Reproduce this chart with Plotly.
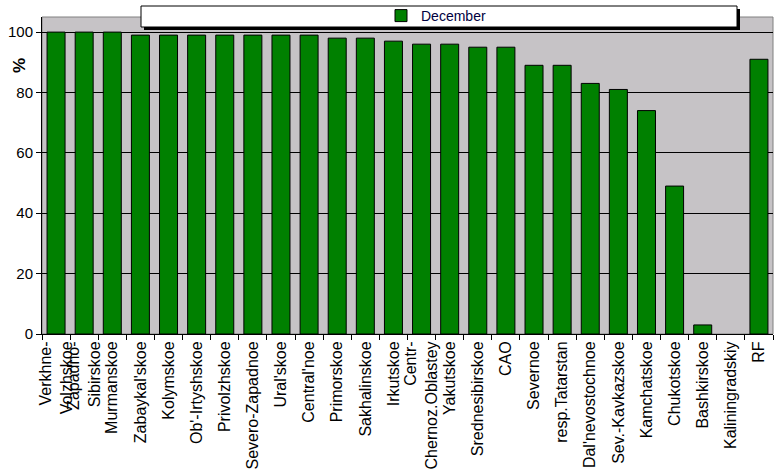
import plotly.graph_objects as go

categories = ["Verkhne-<br>Volzhskoe", "Zapadno-<br>Sibirskoe", "Murmanskoe", "Zabaykal'skoe", "Kolymskoe",
              "Ob'-Irtyshskoe", "Privolzhskoe", "Severo-Zapadnoe", "Ural'skoe", "Central'noe",
              "Primorskoe", "Sakhalinskoe", "Irkutskoe", "Centr-<br>Chernoz.Oblastey", "Yakutskoe",
              "Srednesibirskoe", "CAO", "Severnoe", "resp.Tatarstan", "Dal'nevostochnoe",
              "Sev.-Kavkazskoe", "Kamchatskoe", "Chukotskoe", "Bashkirskoe", "Kaliningradskiy", "RF"]
december = [100, 100, 100, 99, 99, 99, 99, 99, 99, 99, 98, 98, 97, 96, 96, 95, 95, 89, 89, 83,
            81, 74, 49, 3, 0, 91]
y_ticks = [0, 20, 40, 60, 80, 100]

W, H = 775, 475
L, R, T, B = 42, 2, 17, 141
pw = W - L - R
ph = H - T - B

def px_x(p):
    return (p - L) / pw

def px_y(p):
    return (H - B - p) / ph

fig = go.Figure()
fig.add_trace(go.Bar(
    x=categories, y=december, name="December",
    marker=dict(color="#008000",
                line=dict(color="black", width=[1 if v > 0 else 0 for v in december])),
))

fig.update_layout(
    width=W, height=H,
    margin=dict(l=L, r=R, t=T, b=B, autoexpand=False),
    paper_bgcolor="white",
    plot_bgcolor="#C6C3C6",
    bargap=0.36,
    font=dict(family="Liberation Sans, Arial, sans-serif", size=16, color="black"),
    showlegend=True,
    legend=dict(x=px_x(381), y=px_y(16), xanchor="left", yanchor="middle",
                bgcolor="rgba(0,0,0,0)", borderwidth=0,
                font=dict(size=14, color="#000040"), itemwidth=30),
    xaxis=dict(tickangle=-90, tickson="boundaries", ticks="outside", ticklen=5,
               tickcolor="black", showline=True, linecolor="black", linewidth=1,
               showgrid=False, tickfont=dict(size=16), automargin=False),
    yaxis=dict(range=[0, 105], tickvals=y_ticks, ticks="outside", ticklen=5,
               tickcolor="black", showline=True, linecolor="black", linewidth=1,
               showgrid=True, gridcolor="black", gridwidth=1, zeroline=False,
               tickfont=dict(size=15), automargin=False),
    shapes=[
        dict(type="rect", xref="paper", yref="paper", x0=0, x1=1, y0=0, y1=1,
             line=dict(color="#808080", width=1), layer="below"),
        dict(type="rect", xref="paper", yref="paper",
             x0=px_x(144), x1=px_x(740), y0=px_y(30), y1=px_y(9),
             fillcolor="black", line=dict(width=0), layer="above"),
        dict(type="rect", xref="paper", yref="paper",
             x0=px_x(141), x1=px_x(737), y0=px_y(27), y1=px_y(6),
             fillcolor="white", line=dict(color="black", width=1), layer="above"),
    ],
    annotations=[
        dict(text="<b>%</b>", xref="paper", yref="paper", x=px_x(19), y=px_y(66),
             xanchor="center", yanchor="middle",
             showarrow=False, textangle=-90, font=dict(size=17)),
    ],
)

fig.write_html("out.html")
